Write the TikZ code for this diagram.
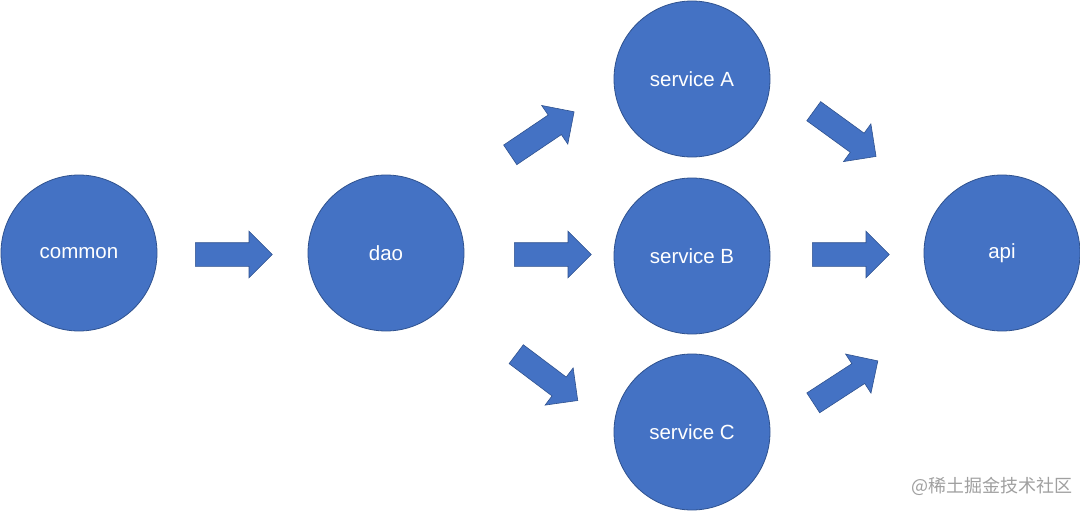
\documentclass[tikz,border=0pt]{standalone}
\usepackage{fontspec}
\setmainfont{Liberation Sans}
\newfontfamily\cjkfont{Noto Sans CJK SC}
\usepackage{tikz}
\usetikzlibrary{shapes.arrows}
\usepackage{xcolor}
\definecolor{officeblue}{RGB}{68,114,196}
\definecolor{edgeblue}{RGB}{47,82,143}
\definecolor{markgray}{RGB}{160,160,160}

\tikzset{
  layer/.style={circle, fill=officeblue, draw=edgeblue, line width=0.8pt,
    minimum size=156pt, inner sep=0pt, text=white, font=\fontsize{20.5}{24}\selectfont},
  blockarrow/.style={single arrow, fill=officeblue, draw=edgeblue, line width=0.6pt,
    minimum height=77pt, inner xsep=0pt, inner ysep=11.5pt,
    text height=0pt, text depth=0pt, single arrow head extend=11.5pt, anchor=tail}
}

\begin{document}
\begin{tikzpicture}[x=1pt, y=-1pt]
  \useasboundingbox (0,0) rectangle (1080,511);
  \fill[white] (0,0) rectangle (1080,511);

  % modules
  \node[layer] (common)   at (79,253)   {common};
  \node[layer] (dao)      at (386,253)  {dao};
  \node[layer] (serviceA) at (692,79)   {service A};
  \node[layer] (serviceB) at (692,256)  {service B};
  \node[layer] (serviceC) at (692,432)  {service C};
  \node[layer] (api)      at (1002,253) {api};

  % dependency arrows (placed by their tails)
  \foreach \n/\x/\y/\a in {1/195/254.5/0, 2/510/155/34, 3/514/254.5/0, 4/516/354/-37,
                           5/813.5/111/-36, 6/812/254.5/0, 7/813/403/33} {
    \node[blockarrow, rotate=\a] (arrow\n) at (\x,\y) {};
  }

  \node[markgray, anchor=east, font=\cjkfont\fontsize{18}{21}\selectfont] (mark) at (1076,486) {@稀土掘金技术社区};
\end{tikzpicture}
\end{document}
